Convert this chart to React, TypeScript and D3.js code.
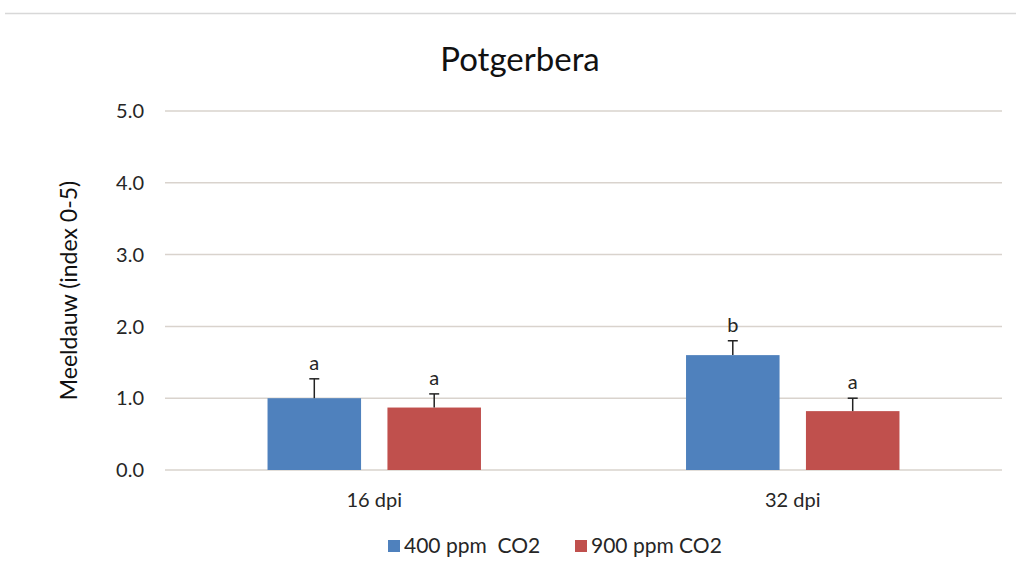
import React from "react";
import * as d3 from "d3";

const categories = ["16 dpi", "32 dpi"];
const seriesNames = ["400 ppm  CO2", "900 ppm CO2"];
const values400 = [1.0, 1.6];
const values900 = [0.87, 0.82];
const err400 = [0.27, 0.2];
const err900 = [0.19, 0.18];
const letters400 = ["a", "b"];
const letters900 = ["a", "a"];
const yTicks = [0, 1, 2, 3, 4, 5];
const colors = ["#4f81bd", "#c0504d"];

export default function App() {
  const W = 1016, H = 583;
  const left = 165, right = 1002, top = 111, bottom = 470;
  const x = d3.scaleBand().domain(categories).range([left, right]).paddingInner(0.49).paddingOuter(0.245);
  const inner = d3.scaleBand().domain(seriesNames).range([0, x.bandwidth()]).paddingInner(0.22);
  const y = d3.scaleLinear().domain([0, 5]).range([bottom, top]);
  const series = [
    { name: seriesNames[0], vals: values400, errs: err400, letters: letters400, color: colors[0] },
    { name: seriesNames[1], vals: values900, errs: err900, letters: letters900, color: colors[1] },
  ];
  const font = "Lato, 'Open Sans', sans-serif";
  const txt = "#262626";
  return (
    <svg width={W} height={H} style={{ position: "absolute", left: 0, top: 0, background: "#fff" }} fontFamily={font}>
      <line x1={5} x2={W} y1={13.5} y2={13.5} stroke="#d8d8d8" strokeWidth={1.5} />
      <text x={520} y={71} textAnchor="middle" fontSize={33} fill="#111">Potgerbera</text>
      {yTicks.map((t) => (
        <g key={t}>
          <line x1={left} x2={right} y1={y(t)} y2={y(t)} stroke="#d9d3cd" strokeWidth={1.5} />
          <text x={144} y={y(t)} dy="0.36em" textAnchor="end" fontSize={20} fill={txt}>{t.toFixed(1)}</text>
        </g>
      ))}
      <text transform={`translate(77,${(top + bottom) / 2}) rotate(-90)`} textAnchor="middle" fontSize={23} fill="#111">Meeldauw (index 0-5)</text>
      {categories.map((c, ci) => (
        <g key={c}>
          {series.map((s) => {
            const bx = (x(c) as number) + (inner(s.name) as number);
            const bw = inner.bandwidth();
            const cx = bx + bw / 2;
            const yTop = y(s.vals[ci]);
            const yErr = y(s.vals[ci] + s.errs[ci]);
            return (
              <g key={s.name}>
                <rect x={bx} y={yTop} width={bw} height={bottom - yTop} fill={s.color} />
                <line x1={cx} x2={cx} y1={yTop} y2={yErr} stroke="#222" strokeWidth={1.5} />
                <line x1={cx - 5} x2={cx + 5} y1={yErr} y2={yErr} stroke="#222" strokeWidth={1.5} />
                <text x={cx} y={yErr - 9} textAnchor="middle" fontSize={20} fill={txt}>{s.letters[ci]}</text>
              </g>
            );
          })}
          <text x={(x(c) as number) + x.bandwidth() / 2} y={507} textAnchor="middle" fontSize={20} fill={txt}>{c}</text>
        </g>
      ))}
      <g>
        <rect x={388} y={540} width={12} height={12} fill={colors[0]} />
        <text x={404} y={553} fontSize={21} fill={txt} style={{ whiteSpace: "pre" }}>{seriesNames[0]}</text>
        <rect x={575} y={540} width={12} height={12} fill={colors[1]} />
        <text x={591} y={553} fontSize={21} fill={txt} style={{ whiteSpace: "pre" }}>{seriesNames[1]}</text>
      </g>
    </svg>
  );
}
